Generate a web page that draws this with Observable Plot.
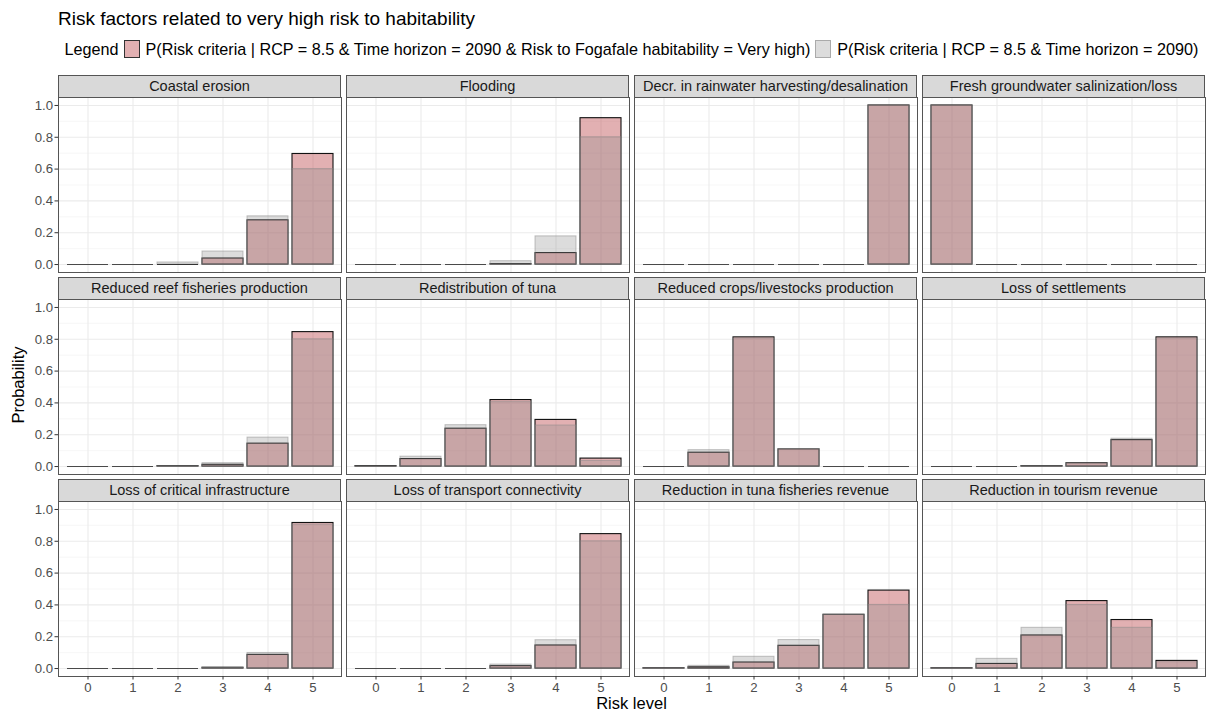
<!DOCTYPE html>
<html><head><meta charset="utf-8">
<script src="https://cdn.jsdelivr.net/npm/d3@7"></script>
<script src="https://cdn.jsdelivr.net/npm/@observablehq/plot@0.6"></script>
<style>
body{margin:0;background:#fff;font-family:"Liberation Sans",Arial,sans-serif;}
#root{position:relative;width:1208px;height:714px;overflow:hidden;background:#fff;}
.abs{position:absolute;white-space:nowrap;}
.strip{position:absolute;box-sizing:border-box;background:#d9d9d9;border:1px solid #555;font-size:14.5px;color:#1a1a1a;text-align:center;white-space:nowrap;}
.key{display:inline-block;box-sizing:border-box;width:16px;height:18px;vertical-align:middle;margin:-3px 6px 0 5px;}
</style></head><body><div id="root"></div>
<script>
const panels = [
  "Coastal erosion","Flooding","Decr. in rainwater harvesting/desalination","Fresh groundwater salinization/loss",
  "Reduced reef fisheries production","Redistribution of tuna","Reduced crops/livestocks production","Loss of settlements",
  "Loss of critical infrastructure","Loss of transport connectivity","Reduction in tuna fisheries revenue","Reduction in tourism revenue"
];
const levels = [0,1,2,3,4,5];
// P(Risk criteria | RCP = 8.5 & Time horizon = 2090 & Risk to Fogafale habitability = Very high)
const pVeryHigh = [
  [0,0,0,0.038,0.278,0.695],
  [0,0,0,0.003,0.072,0.920],
  [0,0,0,0,0,1.0],
  [1.0,0,0,0,0,0],
  [0,0,0.003,0.011,0.144,0.845],
  [0.003,0.047,0.238,0.418,0.293,0.050],
  [0,0.087,0.812,0.108,0,0],
  [0,0,0.003,0.021,0.166,0.812],
  [0,0,0,0.005,0.086,0.915],
  [0,0,0,0.015,0.145,0.845],
  [0.002,0.008,0.038,0.143,0.338,0.490],
  [0.002,0.029,0.208,0.424,0.305,0.048]
];
// P(Risk criteria | RCP = 8.5 & Time horizon = 2090)
const pPrior = [
  [0,0,0.013,0.082,0.303,0.600],
  [0,0,0,0.021,0.177,0.800],
  [0,0,0,0,0,1.0],
  [1.0,0,0,0,0,0],
  [0,0,0.003,0.021,0.182,0.800],
  [0.002,0.062,0.260,0.405,0.258,0.035],
  [0,0.103,0.805,0.110,0,0],
  [0,0,0.003,0.020,0.175,0.805],
  [0,0,0,0.006,0.098,0.905],
  [0,0,0,0.025,0.178,0.800],
  [0.002,0.017,0.074,0.179,0.338,0.400],
  [0.002,0.061,0.256,0.400,0.256,0.040]
];
const yTicks = [0,0.2,0.4,0.6,0.8,1.0];
const yMinor = [0.1,0.3,0.5,0.7,0.9];
const seriesLabels = [
  "P(Risk criteria | RCP = 8.5 & Time horizon = 2090 & Risk to Fogafale habitability = Very high)",
  "P(Risk criteria | RCP = 8.5 & Time horizon = 2090)"
];

const PINK = "rgb(191,79,84)", PINK_OP = 0.45;
const GREY = "rgb(138,138,138)", GREY_OP = 0.3;
const FONT = '"Liberation Sans", Arial, sans-serif';

const root = document.getElementById("root");
function addDiv(html, css, cls){ const d=document.createElement("div"); d.className=cls||"abs"; d.innerHTML=html; Object.assign(d.style, css); root.appendChild(d); return d; }

const LEFT=58, PW=283, GAP=5, PH=175, STRIP=22, ROW0=75, ROWSTEP=202;
const panelsCenter = LEFT + (4*PW+3*GAP)/2;

// title
addDiv("Risk factors related to very high risk to habitability",{left:"58px",top:"8px",fontSize:"19px",color:"#000"});
// legend
const leg = addDiv(
  `<span>Legend</span><span class="key" style="background:rgba(191,79,84,${PINK_OP});border:1px solid #333"></span><span>${seriesLabels[0]}</span><span class="key" style="background:rgba(138,138,138,${GREY_OP});border:1px solid #aaa"></span><span>${seriesLabels[1]}</span>`,
  {top:"39px",fontSize:"16.2px",color:"#000",lineHeight:"20px"});
leg.style.left = (panelsCenter - leg.offsetWidth/2) + "px";

panels.forEach((name,i)=>{
  const c=i%4, r=Math.floor(i/4);
  const px = LEFT + c*(PW+GAP);
  const sy = ROW0 + r*ROWSTEP;
  const py = sy + STRIP;
  addDiv(name,{left:px+"px",top:sy+"px",width:PW+"px",height:(STRIP+1)+"px",lineHeight:(STRIP-1)+"px"},"strip");
  const ml = c===0 ? 58 : 0, mb = r===2 ? 24 : 0;
  const data = levels.map((l,j)=>({level:l, post:pVeryHigh[i][j], prior:pPrior[i][j]}));
  const marks = [
    Plot.gridY(yMinor,{stroke:"#f3f3f3",strokeOpacity:1,strokeWidth:0.7}),
    Plot.gridY(yTicks,{stroke:"#ebebeb",strokeOpacity:1,strokeWidth:1.1}),
    Plot.gridX(levels,{stroke:"#ebebeb",strokeOpacity:1,strokeWidth:1.1}),
    Plot.barY(data,{x:"level",y:"post",fill:PINK,fillOpacity:PINK_OP,stroke:"#111",strokeWidth:1.1}),
    Plot.tickY(data.filter(d=>d.post===0),{x:"level",y:"post",stroke:"#111",strokeWidth:1.1}),
    Plot.barY(data,{x:"level",y:"prior",fill:GREY,fillOpacity:GREY_OP,stroke:GREY,strokeOpacity:0.5,strokeWidth:1}),
    Plot.tickY(data.filter(d=>d.prior===0),{x:"level",y:"prior",stroke:GREY,strokeOpacity:0.5}),
    Plot.frame({stroke:"#555",strokeWidth:1})
  ];
  if (c===0) marks.push(Plot.axisY(yTicks,{tickFormat:d3.format(".1f"),tickSize:3.5,tickPadding:2,fontSize:13.2,fill:"#4d4d4d",stroke:"#333",label:null}));
  if (r===2) marks.push(Plot.axisX(levels,{tickSize:3.5,tickPadding:3,fontSize:13.2,fill:"#4d4d4d",stroke:"#333",label:null}));
  const chart = Plot.plot({
    width: PW+ml, height: PH+mb,
    marginLeft: ml, marginRight: 0, marginTop: 0, marginBottom: mb,
    x:{type:"band",domain:levels,paddingInner:0.1,paddingOuter:0.15,axis: r===2 ? undefined : null},
    y:{domain:[-0.05,1.05],axis: c===0 ? undefined : null},
    style:{fontFamily:FONT,overflow:"visible",background:"transparent"},
    marks
  });
  chart.style.position="absolute";
  chart.style.left=(px-ml)+"px";
  chart.style.top=py+"px";
  root.appendChild(chart);
});

// axis titles
addDiv("Risk level",{left:panelsCenter+"px",top:"694px",fontSize:"16.5px",color:"#000",transform:"translateX(-50%)"});
addDiv("Probability",{left:"18px",top:"385px",fontSize:"16.5px",color:"#000",transform:"translate(-50%,-50%) rotate(-90deg)"});
</script></body></html>
